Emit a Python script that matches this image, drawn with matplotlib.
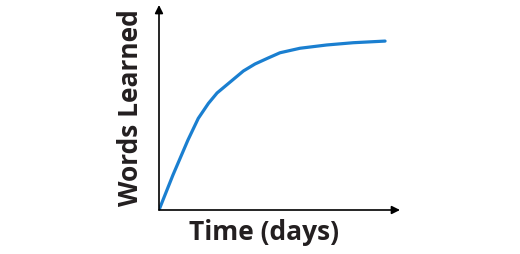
import matplotlib.pyplot as plt

# values (arbitrary units: time 0..10, words 0..100)
days = [0, 0.58, 1.20, 1.63, 2.05, 2.41, 2.95, 3.50, 3.98, 4.52,
        5.02, 5.85, 6.96, 8.06, 9.38]
words = [0, 17.1, 34.1, 44.7, 52.0, 57.1, 62.4, 67.8, 71.2, 74.1,
         76.7, 78.9, 80.5, 81.6, 82.4]

fig = plt.figure(figsize=(5.2, 2.54), dpi=100)
ax = fig.add_axes([159 / 520, 44 / 254, 241 / 520, 205 / 254])
ax.set_xlim(0, 10)
ax.set_ylim(0, 100)

ax.plot(days, words, color='#1a7fd0', lw=2.3, solid_capstyle='round',
        solid_joinstyle='round')

for s in ax.spines.values():
    s.set_visible(False)
ax.set_xticks([])
ax.set_yticks([])

# axes with arrow heads
arrow = dict(arrowstyle='-|>', color='black', lw=1.2, mutation_scale=12,
             shrinkA=0, shrinkB=0)
ax.annotate('', xy=(1, 0), xytext=(0, 0), xycoords='axes fraction', arrowprops=arrow)
ax.annotate('', xy=(0, 1), xytext=(0, 0), xycoords='axes fraction', arrowprops=arrow)

fig.text(264 / 520, 1 - 233 / 254, 'Time (days)', ha='center', va='center',
         fontsize=19, fontweight='bold', family='Open Sans', color='#231f20')
fig.text(130 / 520, 1 - 108 / 254, 'Words Learned', ha='center', va='center',
         rotation=90, fontsize=19, fontweight='bold', family='Open Sans', color='#231f20')

fig.savefig('out.png', dpi=100)
